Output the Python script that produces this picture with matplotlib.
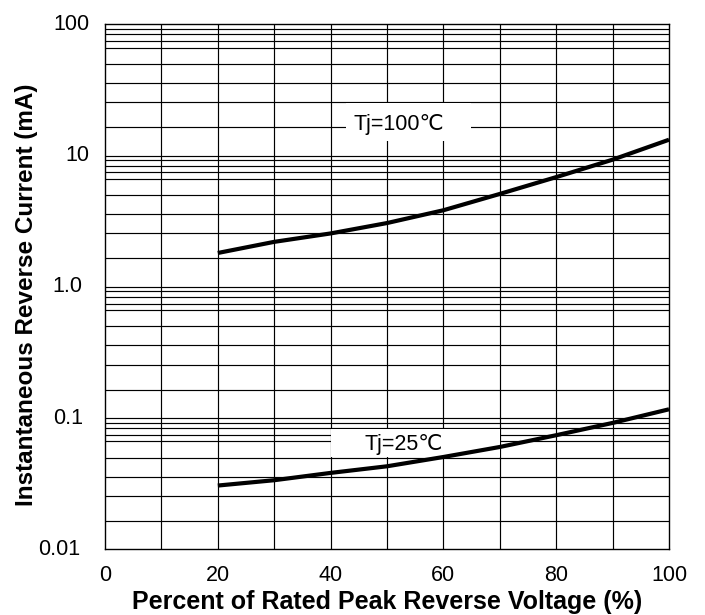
import matplotlib
matplotlib.use("Agg")
import matplotlib.pyplot as plt
from matplotlib.patches import Rectangle
from matplotlib.transforms import ScaledTranslation
import numpy as np

# Data
volt_pct = [20, 30, 40, 50, 60, 70, 80, 90, 100]
ir_100c = [1.81, 2.2, 2.55, 3.06, 3.83, 5.1, 6.85, 9.3, 13.2]
ir_25c = [0.0306, 0.0336, 0.0382, 0.0429, 0.0505, 0.0602, 0.074, 0.0918, 0.1166]

x_ticks = [0, 20, 40, 60, 80, 100]
y_ticks = [0.01, 0.1, 1.0, 10, 100]
y_tick_labels = ["0.01", "0.1", "1.0", "10", "100"]

# positions (fraction of a decade) of the 8 minor grid lines as drawn in the chart
minor_grid_frac = [0.216, 0.407, 0.553, 0.698, 0.822, 0.871, 0.923, 0.965]
decades = [0.01, 0.1, 1, 10]

W, H = 705, 615
fig = plt.figure(figsize=(W / 100, H / 100), dpi=100)
ax = fig.add_axes([105 / W, 1 - 549.3 / H, (669 - 105) / W, (549.3 - 24.3) / H])

ax.set_xlim(0, 100)
ax.set_yscale("log")
ax.set_ylim(0.01, 100)

# grid
for xv in np.arange(10, 100, 10):
    ax.axvline(xv, color="black", lw=0.85, zorder=1)
for dec in decades:
    if dec > 0.01:
        ax.axhline(dec, color="black", lw=0.85, zorder=1)
    for f in minor_grid_frac:
        ax.axhline(dec * 10 ** f, color="black", lw=0.85, zorder=1)

# white label boxes hiding the grid
ax.add_patch(Rectangle((42.7, 12.9), 22.2, 25.0 - 12.9, facecolor="white",
                       edgecolor="none", zorder=2))
ax.add_patch(Rectangle((40.1, 0.0508), 29.9, 0.0826 - 0.0508, facecolor="white",
                       edgecolor="none", zorder=2))

ax.plot(volt_pct, ir_100c, color="black", lw=3.0, zorder=3, solid_capstyle="butt")
ax.plot(volt_pct, ir_25c, color="black", lw=3.0, zorder=3, solid_capstyle="butt")

fam = ["Liberation Sans", "DejaVu Sans"]
ax.text(52.1, 15.7, "Tj=100℃", ha="center", va="baseline", fontsize=15.5,
        family=fam, zorder=4)
ax.text(53.0, 0.0566, "Tj=25℃", ha="center", va="baseline", fontsize=15.5,
        family=fam, zorder=4)

ax.set_xticks(x_ticks)
ax.set_xticklabels([str(v) for v in x_ticks])
ax.set_yticks(y_ticks)
ax.set_yticklabels(y_tick_labels)
ax.yaxis.set_minor_locator(matplotlib.ticker.NullLocator())
ax.tick_params(length=0, labelsize=15.5)
ax.tick_params(axis="y", pad=11)
ax.tick_params(axis="x", pad=11)
for lab in ax.get_xticklabels() + ax.get_yticklabels():
    lab.set_family(fam)

# per-label horizontal/vertical nudges (pixels) seen in the reference
y_label_dx = [-9, -7, -7, 0, 0]
for lab, dx in zip(ax.get_yticklabels(), y_label_dx):
    lab.set_transform(lab.get_transform() +
                      ScaledTranslation(dx / 100, 2.5 / 100, fig.dpi_scale_trans))

for s in ax.spines.values():
    s.set_color("black")
    s.set_linewidth(1.0)
    s.set_zorder(5)

ax.set_xlabel("Percent of Rated Peak Reverse Voltage (%)", fontsize=18,
              fontweight="bold", family="Liberation Sans", labelpad=3)
ax.set_ylabel("Instantaneous Reverse Current (mA)", fontsize=17.5,
              fontweight="bold", family="Liberation Sans")
ax.yaxis.set_label_coords((38 - 105) / 564, (549.3 - 295) / 525)

fig.savefig("out.png", dpi=100)
